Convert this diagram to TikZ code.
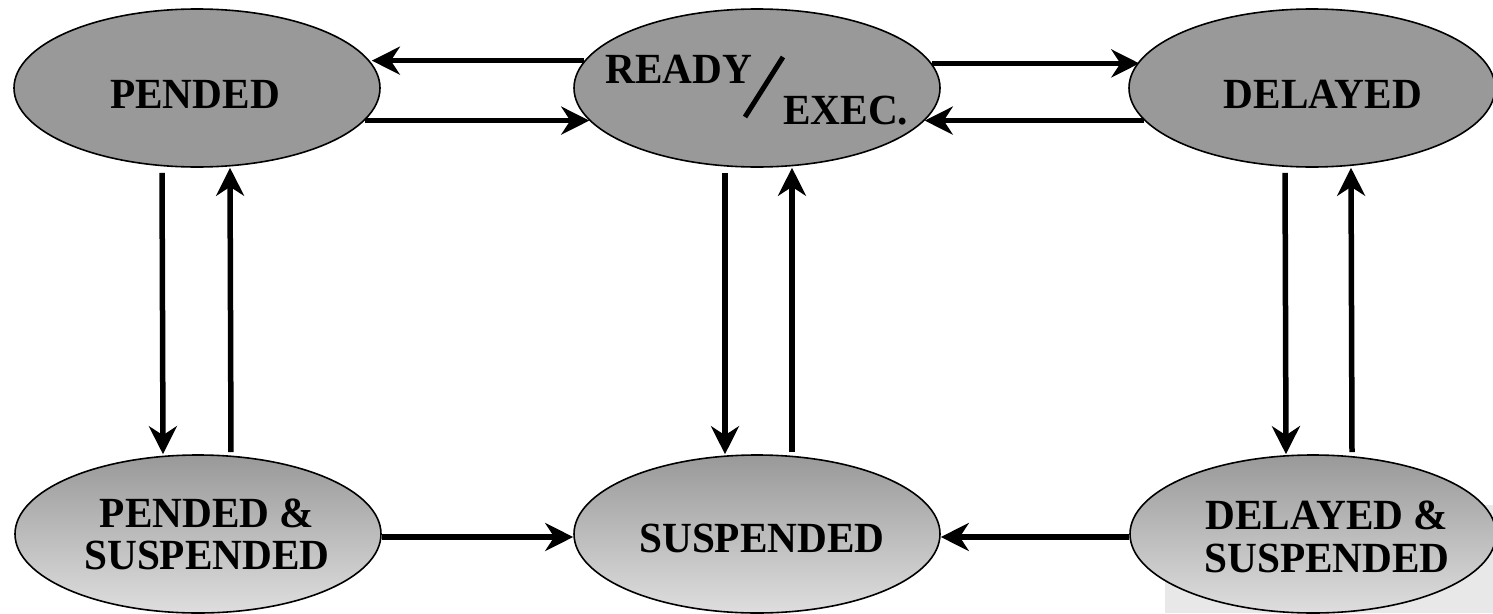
\documentclass[tikz,border=0pt]{standalone}
\usepackage{fontspec}
\setmainfont{Liberation Serif}
\usetikzlibrary{shapes.geometric,arrows.meta}
\definecolor{stategray}{HTML}{999999}
\definecolor{statelight}{HTML}{DEDEDE}
\definecolor{patchgray}{HTML}{E8E8E8}
% slightly narrowed bold lettering
\newcommand\narrowtext[1]{\scalebox{0.96}[1]{#1}}
\tikzset{
  state/.style={ellipse, draw=black, line width=1.6pt, minimum width=366pt,
    minimum height=158pt, inner sep=0pt},
  flat/.style={state, fill=stategray},
  faded/.style={state, top color=stategray, bottom color=statelight},
  lbl/.style={font=\fontsize{43}{43}\selectfont\bfseries, inner sep=0pt, anchor=base},
  arr/.style={line width=5.5pt, -{Stealth[length=28pt, width=28pt, inset=9pt]}}
}
\begin{document}
\begin{tikzpicture}[x=1pt, y=-1pt]
\useasboundingbox (0,0) rectangle (1493,613);
% light patch behind the lower right state
\fill[patchgray] (1165,505) rectangle (1493,613);

% states
\node[flat]  (pend)   at (197,88)  {};
\node[flat]  (ready)  at (757,88)  {};
\node[flat]  (delay)  at (1312,88) {};
\node[faded] (pendsus) at (198,534) {};
\node[faded] (susp)    at (757,534) {};
\node[faded] (delsus)  at (1313,534) {};

% state names
\node[lbl] (tpend)  at (195,108)  {\narrowtext{PENDED}};
\node[lbl] (tdelay) at (1323,108) {\narrowtext{DELAYED}};
\node[lbl, anchor=base west] (tready) at (605,83)  {\narrowtext{READY}};
\node[lbl, anchor=base west] (texec)  at (783,124) {\narrowtext{EXEC.}};
\coordinate (slA) at (745,117);
\coordinate (slB) at (783,57);
\draw[line width=5pt] (slA) -- (slB);
\node[lbl] (tpendsusA) at (207,527) {\narrowtext{PENDED \&}};
\node[lbl] (tpendsusB) at (207,569) {\narrowtext{SUSPENDED}};
\node[lbl] (tsusp)     at (762,552) {\narrowtext{SUSPENDED}};
\node[lbl] (tdelsusA)  at (1327,529) {\narrowtext{DELAYED \&}};
\node[lbl] (tdelsusB)  at (1327,572) {\narrowtext{SUSPENDED}};

% top row transitions
\draw[arr] (ready.171.8) -- (pend.8.2 |- ready.171.8);
\draw[arr] (pend.-11.2) -- (ready.191.2 |- pend.-11.2);
\draw[arr] (ready.8.2) -- (delay.171.8 |- ready.8.2);
\draw[arr] (delay.191.2) -- (ready.-11.2 |- delay.191.2);

% vertical transitions
\draw[arr, shorten <=5pt] ([xshift=-35pt]pend.south) -- ([xshift=-35pt]pendsus.north);
\draw[arr, shorten <=2pt] ([xshift=33pt]pendsus.north) -- ([xshift=33pt]pend.south);
\draw[arr, shorten <=5pt] ([xshift=-32pt]ready.south) -- ([xshift=-32pt]susp.north);
\draw[arr, shorten <=2pt] ([xshift=35pt]susp.north) -- ([xshift=35pt]ready.south);
\draw[arr, shorten <=5pt] ([xshift=-27pt]delay.south) -- ([xshift=-27pt]delsus.north);
\draw[arr, shorten <=2pt] ([xshift=39pt]delsus.north) -- ([xshift=39pt]delay.south);

% bottom row transitions
\draw[arr] ([yshift=-3pt]pendsus.east) -- ([yshift=-3pt]susp.west);
\draw[arr] ([yshift=-3pt]delsus.west) -- ([yshift=-3pt]susp.east);
\end{tikzpicture}
\end{document}
